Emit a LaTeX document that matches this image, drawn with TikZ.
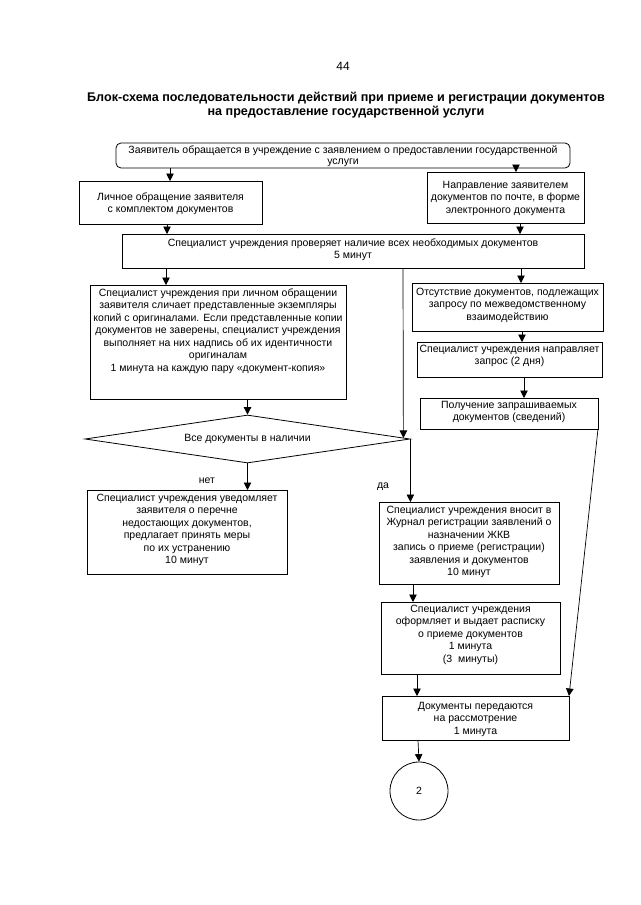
\documentclass[tikz,border=0pt]{standalone}
\usepackage{fontspec}
\setmainfont{Liberation Sans}
\usetikzlibrary{arrows.meta,shapes.geometric,calc}
\newcommand\bt[4]{\parbox[c][#2][t]{#1}{\vspace*{#3}\makebox[#1][c]{\begin{tabular}{@{}c@{}}#4\end{tabular}}}}
\begin{document}
\begin{tikzpicture}[x=1pt,y=-1pt,
  box/.style={draw, line width=0.8pt, inner sep=0pt, outer sep=0pt, anchor=north west,
              font=\fontsize{10.5}{12.5}\selectfont},
  arr/.style={-{Triangle[length=7.5pt,width=7.5pt]}, line width=0.7pt},
  lbl/.style={font=\fontsize{10.5}{12}\selectfont, inner sep=0pt}]
\fill[white] (0,0) rectangle (640,905);
\useasboundingbox (0,0) rectangle (640,905);

\node[font=\fontsize{12}{14}\selectfont] (pn) at (343,66) {44};
\node[font=\fontsize{12.6}{14}\selectfont\bfseries, align=center] (title) at (346,105)
  {Блок-схема последовательности действий при приеме и регистрации документов\\на предоставление государственной услуги};

\node[box, rounded corners=5pt, font=\fontsize{10.5}{11}\selectfont] (b1) at (116,143) {\bt{454pt}{25pt}{3pt}{Заявитель обращается в учреждение с заявлением о предоставлении государственной\\услуги}};
\node[box] (b2) at (79,181) {\bt{183pt}{43pt}{10.5pt}{Личное обращение заявителя\\с комплектом документов}};
\node[box] (b3) at (427,172) {\bt{157pt}{51pt}{7.5pt}{Направление заявителем\\документов по почте, в форме\\электронного документа}};
\node[box] (b4) at (122,234) {\bt{462pt}{34pt}{3.5pt}{Специалист учреждения проверяет наличие всех необходимых документов\\5 минут}};
\node[box] (b5) at (90,285) {\bt{256pt}{114pt}{2.5pt}{Специалист учреждения при личном обращении\\заявителя сличает представленные экземпляры\\копий с оригиналами. Если представленные копии\\документов не заверены, специалист учреждения\\выполняет на них надпись об их идентичности\\оригиналам\\1 минута на каждую пару «документ-копия»}};
\node[box] (b6) at (412,283) {\bt{191pt}{48pt}{3.5pt}{Отсутствие документов, подлежащих\\запросу по межведомственному\\взаимодействию}};
\node[box] (b7) at (417,342) {\bt{185pt}{35pt}{1.5pt}{Специалист учреждения направляет\\запрос (2 дня)}};
\node[box] (b8) at (420,398) {\bt{178pt}{31pt}{1.5pt}{Получение запрашиваемых\\документов (сведений)}};
\node[draw, line width=0.8pt, diamond, minimum width=325pt, minimum height=48pt, inner sep=0pt,
      shape aspect=6.77, font=\fontsize{10.5}{12.5}\selectfont] (d) at (247.5,439) {Все документы в наличии};
\node[box] (b9) at (87,490) {\bt{200pt}{84pt}{2.5pt}{Специалист учреждения уведомляет\\заявителя о перечне\\недостающих документов,\\предлагает принять меры\\по их устранению\\10 минут}};
\node[box] (b10) at (379,502) {\bt{180pt}{82pt}{2.5pt}{Специалист учреждения вносит в\\Журнал регистрации заявлений о\\назначении ЖКВ\\запись о приеме (регистрации)\\заявления и документов\\10 минут}};
\node[box] (b11) at (381,602) {\bt{179pt}{72pt}{1.5pt}{Специалист учреждения\\оформляет и выдает расписку\\о приеме документов\\1 минута\\(3~~минуты)}};
\node[box] (b12) at (382,696) {\bt{187pt}{44pt}{4.5pt}{Документы передаются\\на рассмотрение\\1 минута}};
\node[draw, line width=0.8pt, circle, minimum size=58pt, inner sep=0pt,
      font=\fontsize{10.5}{12}\selectfont] (c2) at (419,791) {2};

\node[lbl] (no) at (207,481) {нет};
\node[lbl] (yes) at (383,487) {да};

\coordinate (x170) at (170,0);
\coordinate (x516) at (516,0);
\coordinate (x167) at (167,0);
\coordinate (x520) at (520,0);
\coordinate (x166) at (166,0);
\coordinate (x403) at (403,0);
\coordinate (x521) at (521,0);
\coordinate (x522) at (522,0);
\coordinate (x524) at (524,0);
\coordinate (x413) at (413,0);
\coordinate (x417) at (417,0);
\coordinate (x418) at (418,0);
\coordinate (dne) at ($(d.north)!0.957!(d.east)$);

\draw[arr] (b1.south -| x170) -- (b2.north -| x170);
\draw[arr] (b1.south -| x516) -- (b3.north -| x516);
\draw[arr] (b2.south -| x167) -- (b4.north -| x167);
\draw[arr] (b3.south -| x520) -- (b4.north -| x520);
\draw[arr] (b4.south -| x166) -- (b5.north -| x166);
\draw[arr] (b4.south -| x403) -- (dne);
\draw[arr] (b4.south -| x521) -- (b6.north -| x521);
\draw[arr] (b6.south -| x522) -- (b7.north -| x522);
\draw[arr] (b7.south -| x524) -- (b8.north -| x524);
\draw[arr] (b5.south -| d.north) -- (d.north);
\draw[arr] (d.south) -- (b9.north -| d.south);
\draw[arr] (d.east) -- (b10.north -| d.east);
\draw[arr] (b10.south -| x413) -- (b11.north -| x413);
\draw[arr] (b11.south -| x417) -- (b12.north -| x417);
\draw[arr] (b8.south east) -- (b12.north east);
\draw[arr] (b12.south -| x418) -- (c2.north);
\end{tikzpicture}
\end{document}
